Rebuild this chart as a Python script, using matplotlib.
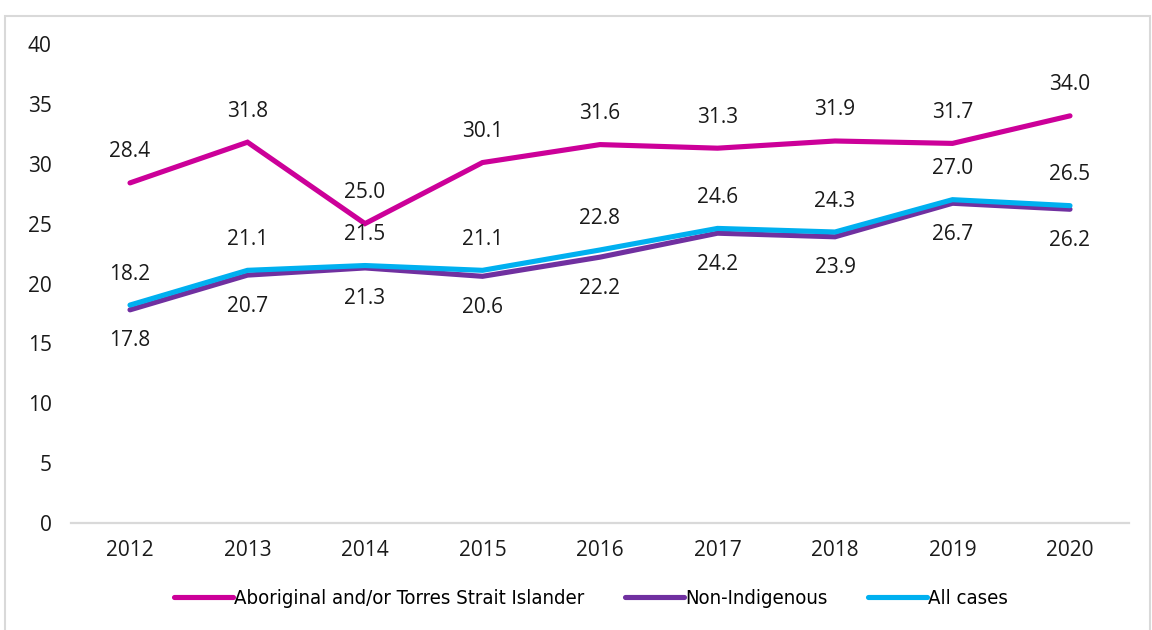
import matplotlib.pyplot as plt
import matplotlib.patches as patches
from matplotlib.lines import Line2D

years = ['2012', '2013', '2014', '2015', '2016', '2017', '2018', '2019', '2020']
aboriginal = [28.4, 31.8, 25.0, 30.1, 31.6, 31.3, 31.9, 31.7, 34.0]
non_indigenous = [17.8, 20.7, 21.3, 20.6, 22.2, 24.2, 23.9, 26.7, 26.2]
all_cases = [18.2, 21.1, 21.5, 21.1, 22.8, 24.6, 24.3, 27.0, 26.5]

series_names = ['Aboriginal and/or Torres Strait Islander', 'Non-Indigenous', 'All cases']
colors = ['#CC0099', '#7030A0', '#00B0F0']

plt.rcParams['font.family'] = ['Open Sans', 'DejaVu Sans']

W, H = 1152, 630
fig = plt.figure(figsize=(W / 100, H / 100), dpi=100)
ax = fig.add_axes([71.25 / W, 1 - 523 / H, 1057.5 / W, 479 / H])

x = list(range(len(years)))
text_color = '#1a1a1a'

# draw order: pink, purple, cyan on top
series = [aboriginal, non_indigenous, all_cases]
label_dy = [31, -31, 31]  # pixels above (+) / below (-) the point
for vals, col, dy in zip(series, colors, label_dy):
    ax.plot(x, vals, color=col, lw=3.7, solid_capstyle='round', solid_joinstyle='miter', zorder=3)
    for xi, v in zip(x, vals):
        ax.annotate(f'{v:.1f}', (xi, v), xytext=(0, dy), textcoords='offset pixels',
                    ha='center', va='center', fontsize=15, color=text_color)

ax.set_xlim(-0.5, len(years) - 0.5)
ax.set_ylim(0, 40)
ax.set_yticks(range(0, 41, 5))
ax.set_xticks(x)
ax.set_xticklabels(years)
ax.tick_params(axis='both', length=0, labelsize=15, labelcolor=text_color)
ax.tick_params(axis='y', pad=14)
ax.tick_params(axis='x', pad=12)
for s in ['top', 'right', 'left']:
    ax.spines[s].set_visible(False)
ax.spines['bottom'].set_color('#D9D9D9')
ax.spines['bottom'].set_linewidth(1.6)

# legend
handles = [Line2D([0], [0], color=c, lw=3.7, solid_capstyle='round') for c in colors]
fig.legend(handles, series_names, loc='center', bbox_to_anchor=(591 / W, 1 - 599 / H),
           ncol=3, frameon=False, handlelength=2.9, handletextpad=0.05, columnspacing=2.0,
           prop=dict(family='DejaVu Sans', stretch='condensed', size=14.6))

# outer light grey frame
fig.patches.append(patches.Rectangle((5 / W, -0.05), 1145 / W, 1.05 - 16 / H,
                                     transform=fig.transFigure, fill=False,
                                     edgecolor='#D9D9D9', lw=1.5))

fig.savefig('out.png', dpi=100)
